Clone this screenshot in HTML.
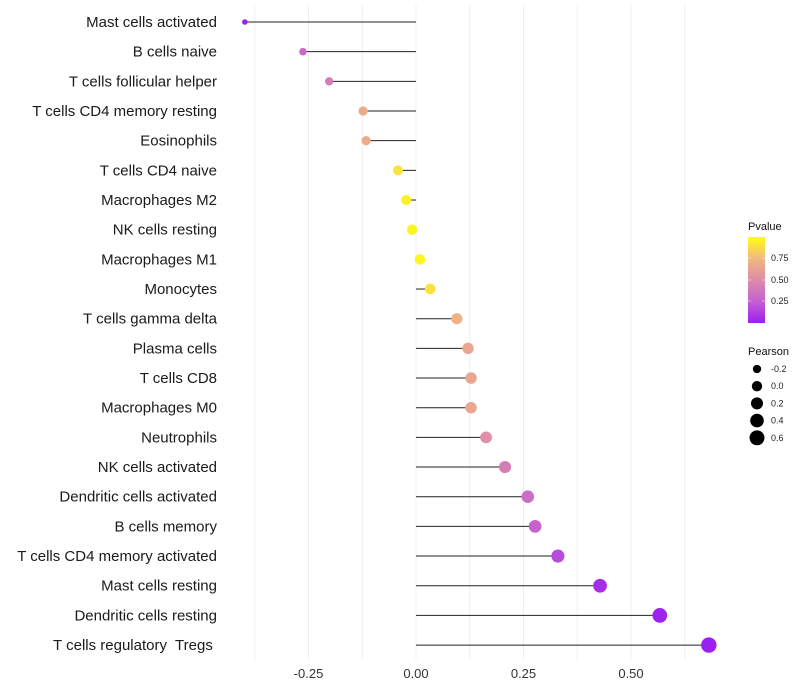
<!DOCTYPE html>
<html><head><meta charset="utf-8"><style>
body{margin:0;background:#fff;font-family:"Liberation Sans",sans-serif}
svg{display:block}
text{white-space:pre}
</style></head><body>
<svg id="c" width="800" height="700" xmlns="http://www.w3.org/2000/svg">
<defs><linearGradient id="pg" x1="0" y1="1" x2="0" y2="0">
<stop offset="0" stop-color="#9B1FF0"/><stop offset="0.25" stop-color="#C560D2"/><stop offset="0.5" stop-color="#DE8BA8"/><stop offset="0.75" stop-color="#F2B880"/><stop offset="1" stop-color="#FFFF10"/>
</linearGradient></defs>
<g id="grid"></g><g id="marks"></g><g id="labels"></g>
<g>
<text x="748" y="230" font-size="11" fill="#111">Pvalue</text>
<rect x="748" y="237" width="17" height="86" fill="url(#pg)"/>
<g stroke="#fff" stroke-width="0.8" opacity="0.6"><line x1="748" y1="258" x2="751" y2="258"/><line x1="762" y1="258" x2="765" y2="258"/><line x1="748" y1="280" x2="751" y2="280"/><line x1="762" y1="280" x2="765" y2="280"/><line x1="748" y1="301" x2="751" y2="301"/><line x1="762" y1="301" x2="765" y2="301"/></g>
<g font-size="9" fill="#222"><text x="771" y="261">0.75</text><text x="771" y="283">0.50</text><text x="771" y="304">0.25</text></g>
</g>
<g>
<text x="748" y="355" font-size="11" fill="#111">Pearson</text>
<g id="sizeleg"></g>
</g>
</svg>
<script>
const categories=["Mast cells activated","B cells naive","T cells follicular helper","T cells CD4 memory resting","Eosinophils","T cells CD4 naive","Macrophages M2","NK cells resting","Macrophages M1","Monocytes","T cells gamma delta","Plasma cells","T cells CD8","Macrophages M0","Neutrophils","NK cells activated","Dendritic cells activated","B cells memory","T cells CD4 memory activated","Mast cells resting","Dendritic cells resting","T cells regulatory  Tregs "];
const pearson=[-0.398,-0.263,-0.202,-0.123,-0.116,-0.042,-0.023,-0.009,0.009,0.033,0.095,0.121,0.128,0.128,0.163,0.207,0.26,0.277,0.33,0.428,0.567,0.681];
const pvalue=[0.0,0.3,0.42,0.68,0.68,0.9,0.95,0.97,0.97,0.9,0.72,0.65,0.65,0.65,0.52,0.42,0.32,0.27,0.17,0.06,0.01,0.001];
const xTicks=[-0.25,0,0.25,0.5];
const xTickLabels=["-0.25","0.00","0.25","0.50"];
const sizeBreaks=[-0.2,0,0.2,0.4,0.6];
const sizeLabels=["-0.2","0.0","0.2","0.4","0.6"];
const NS="http://www.w3.org/2000/svg";
const X=v=>416+v*430;
const Y=i=>22+i*29.67;
const R=v=>Math.sqrt(Math.max(2.5,27+48*v));
const stops=[[0,[155,31,240]],[0.25,[197,96,210]],[0.5,[222,139,168]],[0.75,[242,184,128]],[1,[255,255,16]]];
function col(p){for(let k=0;k<stops.length-1;k++){const a=stops[k],b=stops[k+1];if(p<=b[0]){const t=(p-a[0])/(b[0]-a[0]);return"rgb("+a[1].map((c,j)=>Math.round(c+(b[1][j]-c)*t)).join(",")+")";}}return"rgb(255,255,16)";}
function mk(t,a,p){const e=document.createElementNS(NS,t);for(const k in a)e.setAttribute(k,a[k]);p.appendChild(e);return e;}
const grid=document.getElementById("grid"),marks=document.getElementById("marks"),labels=document.getElementById("labels");
for(let g=-0.375;g<=0.63;g+=0.125){const l=mk("line",{x1:X(g),x2:X(g),y1:5,y2:660,stroke:"#efefef","stroke-width":1},grid);

}
xTicks.forEach((t,i)=>{const e=mk("text",{x:X(t),y:678,"text-anchor":"middle","font-size":13,fill:"#333"},labels);e.textContent=xTickLabels[i];

});
categories.forEach((c,i)=>{
const y=Y(i);
const t=mk("text",{x:217,y:y+5,"text-anchor":"end","font-size":15,fill:"#1a1a1a"},labels);t.textContent=c;


const s=mk("line",{x1:X(0),x2:X(pearson[i]),y1:y,y2:y,stroke:"#222","stroke-width":1},marks);


const d=mk("circle",{cx:X(pearson[i]),cy:y,r:R(pearson[i]),fill:col(pvalue[i])},marks);


});
const sl=document.getElementById("sizeleg");
sizeBreaks.forEach((b,i)=>{const y=369+i*17.2;
const d=mk("circle",{cx:757,cy:y,r:R(b),fill:"#000"},sl);


const t=mk("text",{x:771,y:y+3,"font-size":9,fill:"#222"},sl);t.textContent=sizeLabels[i];

});
</script>
</body></html>
